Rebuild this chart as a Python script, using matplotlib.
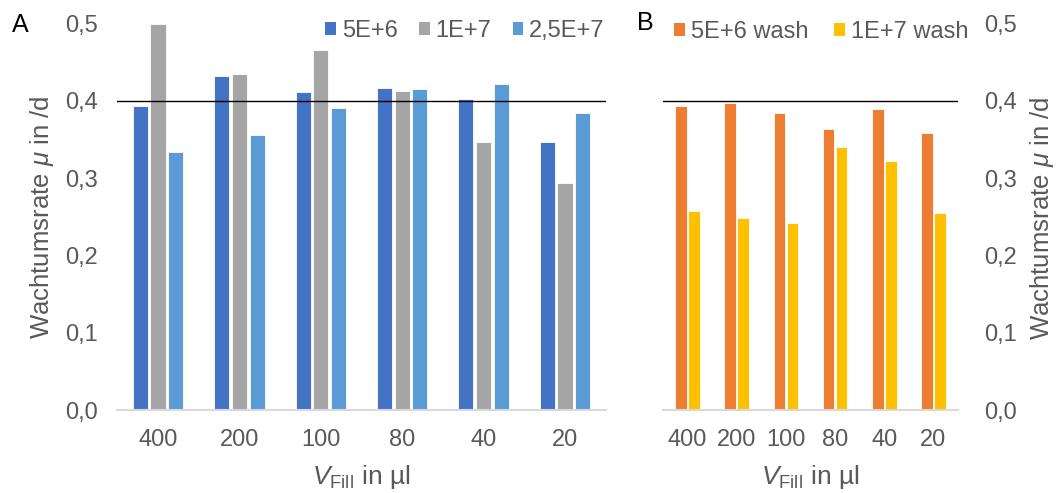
import matplotlib
matplotlib.use("Agg")
import matplotlib.pyplot as plt
from matplotlib.patches import Patch
import numpy as np

plt.rcParams['font.family'] = ['Liberation Sans', 'DejaVu Sans']
plt.rcParams['mathtext.fontset'] = 'custom'
plt.rcParams['mathtext.rm'] = 'Liberation Sans'
plt.rcParams['mathtext.it'] = 'Liberation Sans:italic'
plt.rcParams['mathtext.bf'] = 'Liberation Sans:bold'

categories = ["400", "200", "100", "80", "40", "20"]

series_A = ["5E+6", "1E+7", "2,5E+7"]
vals_5e6 = [0.394, 0.433, 0.412, 0.417, 0.403, 0.347]
vals_1e7 = [0.500, 0.435, 0.466, 0.413, 0.347, 0.294]
vals_25e7 = [0.334, 0.356, 0.391, 0.416, 0.422, 0.384]

series_B = ["5E+6 wash", "1E+7 wash"]
vals_5e6_wash = [0.393, 0.397, 0.384, 0.364, 0.389, 0.358]
vals_1e7_wash = [0.257, 0.248, 0.242, 0.340, 0.322, 0.255]

ref_line = 0.4
yticks = [0.0, 0.1, 0.2, 0.3, 0.4, 0.5]
ytick_labels = ["0,0", "0,1", "0,2", "0,3", "0,4", "0,5"]

colors_A = ["#4472C4", "#A5A5A5", "#5B9BD5"]
colors_B = ["#ED7D31", "#FFC000"]
txt = "#595959"
FS = 17

W, H = 1059, 493
fig = plt.figure(figsize=(W / 100, H / 100), dpi=100)

bottom = (H - 410) / H
height = 386.25 / H
axA = fig.add_axes([117.3 / W, bottom, 488.4 / W, height])
axB = fig.add_axes([663 / W, bottom, 295 / W, height])

x = np.arange(len(categories))

def style(ax, right=False):
    ax.set_xlim(-0.5, len(categories) - 0.5)
    ax.set_ylim(0, 0.5)
    for s in ["top", "right", "left"]:
        ax.spines[s].set_visible(False)
    ax.spines["bottom"].set_color("#D9D9D9")
    ax.spines["bottom"].set_linewidth(1.5)
    ax.set_xticks(x)
    ax.set_xticklabels(categories)
    ax.set_yticks(yticks)
    ax.set_yticklabels(ytick_labels)
    ax.tick_params(axis="both", length=0, labelsize=FS, labelcolor=txt)
    ax.tick_params(axis="x", pad=13.5)
    if right:
        ax.yaxis.tick_right()
        ax.tick_params(axis="y", pad=19)
    else:
        ax.tick_params(axis="y", pad=14)
    ax.axhline(ref_line, color="black", linewidth=1.0, zorder=3)
    ax.set_xlabel(r"$\mathit{V}_{\mathrm{Fill}}$ in µl", fontsize=FS + 2,
                  color=txt, labelpad=9)

style(axA)
style(axB, right=True)

slotA = 0.217
wA = 0.185
for i, (vals, c) in enumerate(zip([vals_5e6, vals_1e7, vals_25e7], colors_A)):
    axA.bar(x + (i - 1) * slotA, vals, width=wA, color=c, edgecolor="white",
            linewidth=0.6, zorder=2)

slotB = 0.265
wB = 0.235
for i, (vals, c) in enumerate(zip([vals_5e6_wash, vals_1e7_wash], colors_B)):
    axB.bar(x + (i - 0.5) * slotB, vals, width=wB, color=c, edgecolor="white",
            linewidth=0.6, zorder=2)

ylab = r"Wachtumsrate $\mathit{μ}$ in /d"
fig.text(42 / W, 1 - 217 / H, ylab, rotation=90, ha="center", va="center",
         fontsize=FS + 1.5, color=txt)
fig.text(1042 / W, 1 - 218 / H, ylab, rotation=90, ha="center", va="center",
         fontsize=FS + 1.5, color=txt)

fig.text(12 / W, 1 - 32 / H, "A", fontsize=FS + 1, color="black", ha="left", va="baseline")
fig.text(637 / W, 1 - 30 / H, "B", fontsize=FS + 1, color="black", ha="left", va="baseline")

hA = [Patch(facecolor=c, edgecolor="none") for c in colors_A]
fig.legend(hA, series_A, loc="center", bbox_to_anchor=(465 / W, 1 - 31 / H),
           ncol=3, frameon=False, fontsize=FS, labelcolor=txt,
           handlelength=0.45, handleheight=0.45, handletextpad=0.25,
           columnspacing=0.9, borderpad=0, borderaxespad=0)
hB = [Patch(facecolor=c, edgecolor="none") for c in colors_B]
fig.legend(hB, series_B, loc="center", bbox_to_anchor=(821 / W, 1 - 32 / H),
           ncol=2, frameon=False, fontsize=FS, labelcolor=txt,
           handlelength=0.45, handleheight=0.45, handletextpad=0.25,
           columnspacing=1.1, borderpad=0, borderaxespad=0)

fig.savefig("out.png", dpi=100)
